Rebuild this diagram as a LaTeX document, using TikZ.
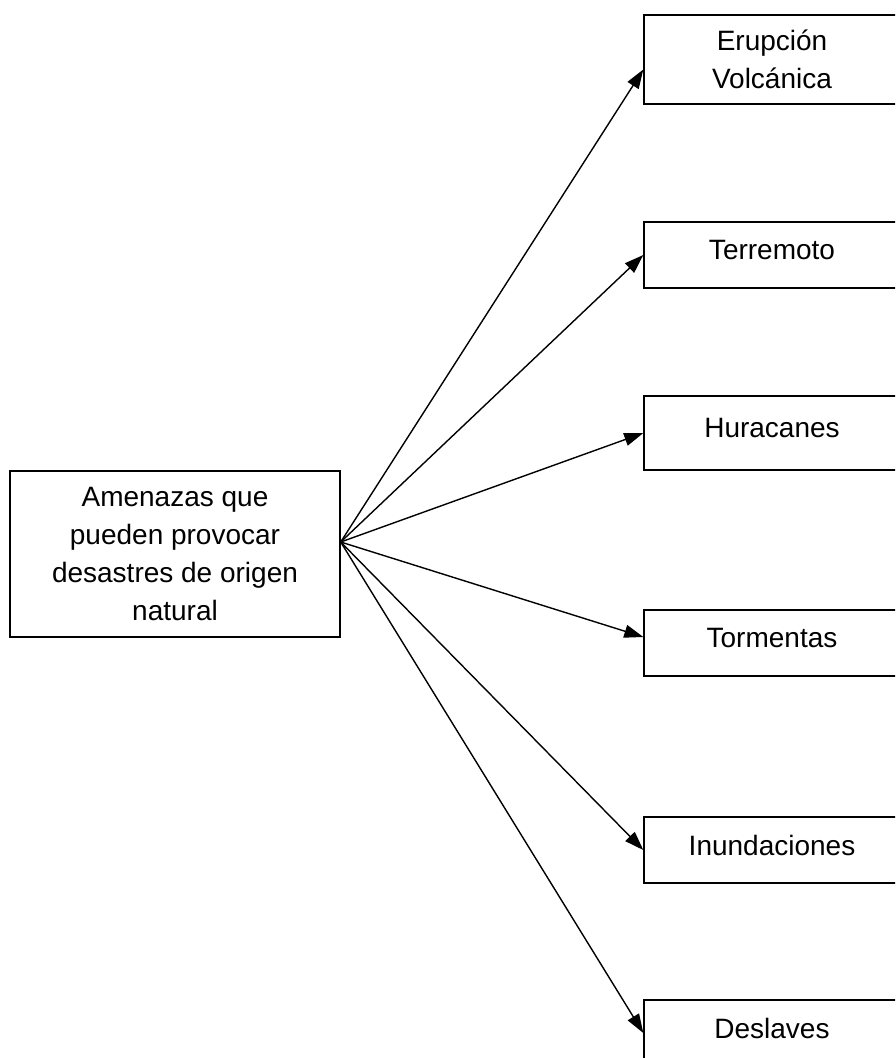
\documentclass[tikz,border=0pt]{standalone}
\usepackage{fontspec}
\setmainfont{Liberation Sans}
\usetikzlibrary{arrows.meta}

\begin{document}
\begin{tikzpicture}[x=1pt,y=-1pt,
  font=\fontsize{28}{38}\selectfont,
  caja/.style={draw, rectangle, line width=1.4pt, align=center, minimum width=256, text depth=10pt},
  flecha/.style={draw, line width=1.4pt, -{Triangle[length=19pt,width=13pt]}}]
\useasboundingbox (0,0) rectangle (895,1058);
\clip (0,0) rectangle (895,1058);
\node[draw, rectangle, line width=1.4pt, align=center, minimum width=330, minimum height=166] (0) at (175,554) {Amenazas que\\pueden provocar\\desastres de origen\\natural};
\node[caja, minimum height=89, text depth=0pt] (1) at (772,59.5) {Erupción\\Volcánica};
\node[caja, minimum height=66] (2) at (772,255) {Terremoto};
\node[caja, minimum height=74] (3) at (772,433) {Huracanes};
\node[caja, minimum height=66] (4) at (772,643) {Tormentas};
\node[caja, minimum height=66] (5) at (772,850) {Inundaciones};
\node[caja, minimum height=66] (6) at (772,1033) {Deslaves};
\path[flecha] ([yshift=12pt]0.east) -- ([yshift=-10pt]1.west);
\path[flecha] ([yshift=12pt]0.east) -- (2.west);
\path[flecha] ([yshift=12pt]0.east) -- (3.west);
\path[flecha] ([yshift=12pt]0.east) -- ([yshift=6pt]4.west);
\path[flecha] ([yshift=12pt]0.east) -- (5.west);
\path[flecha] ([yshift=12pt]0.east) -- (6.west);
\end{tikzpicture}
\end{document}
